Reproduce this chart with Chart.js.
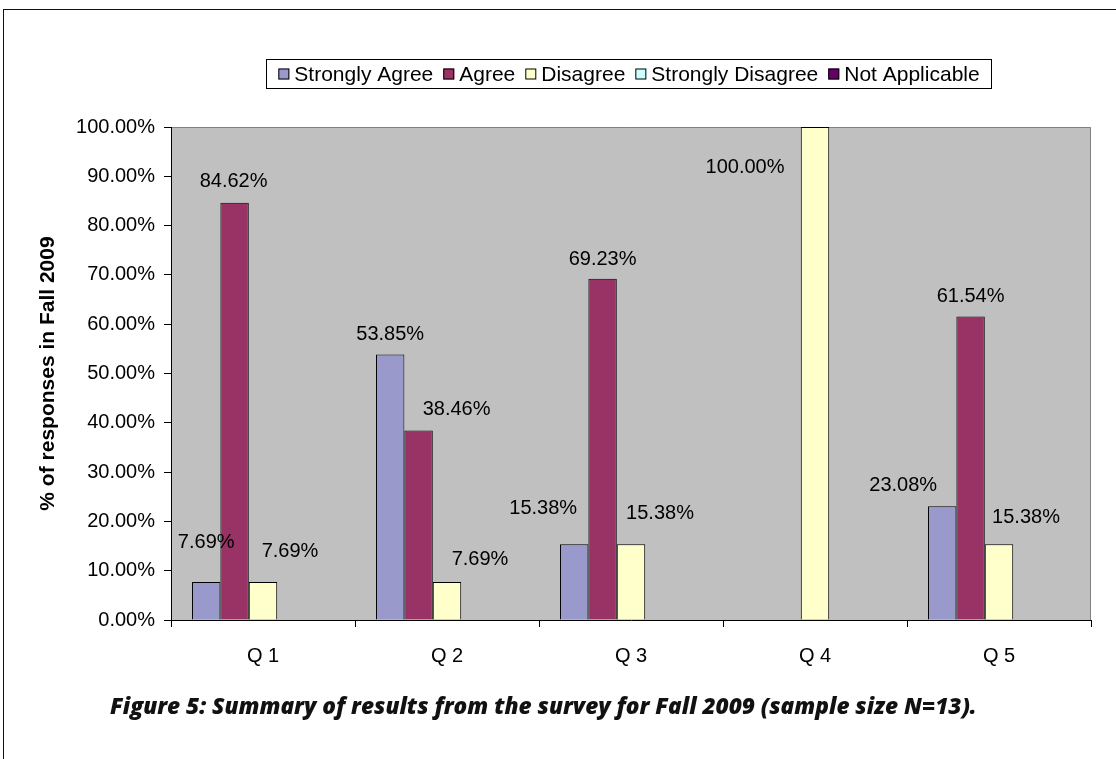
<!DOCTYPE html>
<html>
<head>
<meta charset="utf-8">
<script src="https://cdn.jsdelivr.net/npm/chart.js@4.4.1/dist/chart.umd.min.js"></script>
<style>
  html, body { margin: 0; padding: 0; background: #fff; }
  #wrap { position: relative; width: 1116px; height: 759px; overflow: hidden; }
  #frame { position: absolute; left: 3px; top: 9px; right: -2px; bottom: -2px;
           border-top: 1.5px solid #111; border-left: 1px solid #111; }
  #chart { position: absolute; left: 0; top: 0; }
  #caption { position: absolute; left: 110px; top: 705px; transform: translateY(-50%);
             color: #111; white-space: nowrap; line-height: 1;
             font: italic 800 19px 'Open Sans', Lato, sans-serif; }
</style>
</head>
<body>
<div id="wrap">
  <div id="frame"></div>
  <canvas id="chart" width="1116" height="759"></canvas>
  <div id="caption">Figure 5: Summary of results from the survey for Fall 2009 (sample size N=13).</div>
</div>
<script>
// survey answers, % of 13 responses
const questions = ['Q 1', 'Q 2', 'Q 3', 'Q 4', 'Q 5'];
const seriesNames = ['Strongly Agree', 'Agree', 'Disagree', 'Strongly Disagree', 'Not Applicable'];
const stronglyAgree    = [7.69, 53.85, 15.38, 0, 23.08];
const agree            = [84.62, 38.46, 69.23, 0, 61.54];
const disagree         = [7.69, 7.69, 15.38, 100, 15.38];
const stronglyDisagree = [0, 0, 0, 0, 0];
const notApplicable    = [0, 0, 0, 0, 0];
const yMax = 100;
const yStep = 10;

const seriesColors = ['#9999cc', '#993366', '#ffffcc', '#ccffff', '#660066'];
const FONT = "'Liberation Sans', Arial, sans-serif";

// the value labels in the original were dragged around by hand;
// [dx, dy] from the default spot 20px above the bar top
const labelNudge = [
  [[0, -20], [0, 0], [-31, -16], [0, 0], [-39, -1]],
  [[-1, -1], [38, -1], [0, 1], [0, 0], [0, 0]],
  [[27, -11], [33, -3], [29, -11], [-70, 60], [27, -7]],
  [[0, 0], [0, 0], [0, 0], [0, 0], [0, 0]],
  [[0, 0], [0, 0], [0, 0], [0, 0], [0, 0]],
];

const plotBg = {
  id: 'plotBg',
  beforeDraw(chart) {
    const { ctx, chartArea: a } = chart;
    ctx.save();
    ctx.fillStyle = '#c0c0c0';
    ctx.fillRect(a.left, a.top, a.right - a.left, a.bottom - a.top);
    ctx.strokeStyle = '#808080';
    ctx.lineWidth = 1;
    ctx.beginPath();
    ctx.moveTo(a.left, a.top + 0.5);
    ctx.lineTo(a.right - 0.5, a.top + 0.5);
    ctx.lineTo(a.right - 0.5, a.bottom);
    ctx.stroke();
    ctx.restore();
  },
};

const valueLabels = {
  id: 'valueLabels',
  afterDatasetsDraw(chart) {
    const ctx = chart.ctx;
    ctx.save();
    ctx.font = '20px ' + FONT;
    ctx.fillStyle = '#000';
    ctx.textAlign = 'center';
    ctx.textBaseline = 'middle';
    chart.data.datasets.forEach((ds, i) => {
      chart.getDatasetMeta(i).data.forEach((bar, j) => {
        const v = ds.data[j];
        if (!v) return;
        const [dx, dy] = labelNudge[i][j];
        ctx.fillText(v.toFixed(2) + '%', bar.x + dx, bar.y - 20 + dy);
      });
    });
    ctx.restore();
  },
};

const boxLegend = {
  id: 'boxLegend',
  afterDraw(chart) {
    const ctx = chart.ctx;
    const left = 266, top = 59, right = 992, bottom = 89;
    ctx.save();
    ctx.fillStyle = '#fff';
    ctx.fillRect(left, top, right - left, bottom - top);
    ctx.strokeStyle = '#000';
    ctx.lineWidth = 1;
    ctx.strokeRect(left + 0.5, top + 0.5, right - left - 1, bottom - top - 1);
    ctx.font = '21px ' + FONT;
    ctx.textBaseline = 'middle';
    const mid = (top + bottom) / 2;
    const sq = 11, gapText = 5, gapItem = 10;
    let total = 0;
    seriesNames.forEach(n => { total += sq + gapText + ctx.measureText(n).width; });
    total += gapItem * (seriesNames.length - 1);
    let x = (left + right) / 2 - total / 2;
    chart.data.datasets.forEach((ds, i) => {
      ctx.fillStyle = ds.backgroundColor;
      ctx.fillRect(x, mid - sq / 2, sq, sq);
      ctx.strokeStyle = '#000';
      ctx.strokeRect(x + 0.5, mid - sq / 2 + 0.5, sq - 1, sq - 1);
      x += sq + gapText;
      ctx.fillStyle = '#000';
      ctx.fillText(ds.label, x, mid + 1);
      x += ctx.measureText(ds.label).width + gapItem;
    });
    ctx.restore();
  },
};

const seriesData = [stronglyAgree, agree, disagree, stronglyDisagree, notApplicable];

new Chart(document.getElementById('chart'), {
  type: 'bar',
  data: {
    labels: questions,
    datasets: seriesNames.map((name, i) => ({
      label: name,
      data: seriesData[i],
      backgroundColor: seriesColors[i],
      borderColor: '#000',
      borderWidth: 1,
      categoryPercentage: 0.772,
      barPercentage: 1,
    })),
  },
  options: {
    responsive: false,
    animation: false,
    layout: { padding: { top: 127, right: 25, bottom: 0, left: 0 } },
    plugins: { legend: { display: false }, tooltip: { enabled: false } },
    scales: {
      x: {
        grid: { drawOnChartArea: false, tickLength: 7, color: '#000', offset: true },
        border: { color: '#000' },
        ticks: { color: '#000', font: { family: FONT, size: 20 }, padding: 17 },
        afterFit(s) { s.height = 139; },
      },
      y: {
        min: 0, max: yMax,
        ticks: { stepSize: yStep, color: '#000', font: { family: FONT, size: 20 }, padding: 9,
                 callback: v => v.toFixed(2) + '%' },
        grid: { drawOnChartArea: false, tickLength: 7, color: '#000' },
        border: { color: '#000' },
        title: { display: true, text: '% of responses in Fall 2009', color: '#000',
                 font: { family: FONT, size: 21, weight: 'bold' }, padding: { top: 36, bottom: 0 } },
        afterFit(s) { s.width = 171; },
      },
    },
  },
  plugins: [plotBg, valueLabels, boxLegend],
});

// stretch the caption to the width it has in the figure
const cap = document.getElementById('caption');
const capWidth = 867;
const fs = 19 * capWidth / cap.getBoundingClientRect().width;
cap.style.fontSize = fs.toFixed(2) + 'px';
</script>
</body>
</html>
